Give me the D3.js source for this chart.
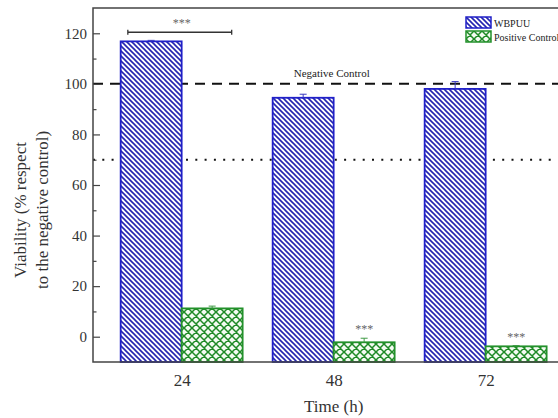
<!DOCTYPE html>
<html>
<head>
<meta charset="utf-8">
<script src="https://cdn.jsdelivr.net/npm/d3@7"></script>
<style>
  body { margin: 0; padding: 0; background: #fff; }
  svg { display: block; }
  svg text { font-family: "Liberation Serif", "DejaVu Serif", serif; }
</style>
</head>
<body>
<div id="main"></div>
<script>
const times = [24, 48, 72];
const wbpuu = [116.8, 94.5, 98.0];
const wbpuuErr = [0.4, 1.4, 2.9];
const positive = [11.2, -2.2, -3.8];
const positiveErr = [0.9, 1.6, 0.3];
const yTicks = [0, 20, 40, 60, 80, 100, 120];
const yMinor = [10, 30, 50, 70, 90, 110];
const seriesNames = ['WBPUU', 'Positive Control'];
const negativeLevel = 100;
const thresholdLevel = 70;
const starsOnPositive = [false, true, true];
const bracket = {from: 15.5, to: 31.9, level: 120.4, at: 24};

const WIDTH = 558, HEIGHT = 418;
const LEFT = 93, TOP = 8, BOTTOM = 362;
const BARW = 9.63;
const SERIF = '"Liberation Serif", "DejaVu Serif", serif';

const svg = d3.select('#main').append('svg').attr('width', WIDTH).attr('height', HEIGHT)
    .attr('font-family', SERIF);

const x = d3.scaleLinear().domain([10, 86]).range([LEFT, 574.3]);
const y = d3.scaleLinear().domain([-10, 130]).range([BOTTOM, TOP]);

// patterns
const defs = svg.append('defs');
const blueP = defs.append('pattern').attr('id', 'blueHatch').attr('patternUnits', 'userSpaceOnUse')
    .attr('width', 5).attr('height', 5);
blueP.append('rect').attr('width', 5).attr('height', 5).attr('fill', '#fff');
blueP.append('path').attr('d', 'M0,0 L5,5 M-1,4 L1,6 M4,-1 L6,1')
    .attr('stroke', '#2424b0').attr('stroke-width', 1.6);
const greenP = defs.append('pattern').attr('id', 'greenHatch').attr('patternUnits', 'userSpaceOnUse')
    .attr('width', 8).attr('height', 8);
greenP.append('rect').attr('width', 8).attr('height', 8).attr('fill', '#f4fbf2');
greenP.append('path').attr('d', 'M0,0 L8,8 M8,0 L0,8 M-1,1 L1,-1 M7,9 L9,7 M-1,7 L1,9 M7,-1 L9,1')
    .attr('stroke', '#1f8a26').attr('stroke-width', 1.5);

// reference lines
svg.append('line').attr('x1', LEFT).attr('x2', WIDTH).attr('y1', y(negativeLevel)).attr('y2', y(negativeLevel))
    .attr('stroke', '#111').attr('stroke-width', 2).attr('stroke-dasharray', '10,7');
svg.append('line').attr('x1', LEFT).attr('x2', WIDTH).attr('y1', y(thresholdLevel)).attr('y2', y(thresholdLevel))
    .attr('stroke', '#111').attr('stroke-width', 2).attr('stroke-dasharray', '2,7.3');

// bars
const groups = times.map((t, i) => ({t, w: wbpuu[i], we: wbpuuErr[i], p: positive[i], pe: positiveErr[i], star: starsOnPositive[i]}));
svg.selectAll('rect.wb').data(groups).enter().append('rect').attr('class', 'wb')
    .attr('x', (d) => x(d.t - BARW)).attr('width', (d) => x(d.t) - x(d.t - BARW))
    .attr('y', (d) => y(d.w)).attr('height', (d) => y(-10) - y(d.w))
    .attr('fill', 'url(#blueHatch)').attr('stroke', '#2020c8').attr('stroke-width', 1.8);
svg.selectAll('rect.pc').data(groups).enter().append('rect').attr('class', 'pc')
    .attr('x', (d) => x(d.t)).attr('width', (d) => x(d.t + BARW) - x(d.t))
    .attr('y', (d) => y(d.p)).attr('height', (d) => y(-10) - y(d.p))
    .attr('fill', 'url(#greenHatch)').attr('stroke', '#23912b').attr('stroke-width', 1.8);

// error bars (upper)
const errs = [];
groups.forEach((d) => {
    errs.push({cx: d.t - BARW / 2, v: d.w, e: d.we, c: '#3a3ac0'});
    errs.push({cx: d.t + BARW / 2, v: d.p, e: d.pe, c: '#3f9a45'});
});
const eg = svg.selectAll('g.err').data(errs).enter().append('g').attr('class', 'err');
eg.append('line').attr('x1', (d) => x(d.cx)).attr('x2', (d) => x(d.cx))
    .attr('y1', (d) => y(d.v)).attr('y2', (d) => y(d.v + d.e)).attr('stroke', (d) => d.c).attr('stroke-width', 1);
eg.append('line').attr('x1', (d) => x(d.cx) - 3.5).attr('x2', (d) => x(d.cx) + 3.5)
    .attr('y1', (d) => y(d.v + d.e)).attr('y2', (d) => y(d.v + d.e)).attr('stroke', (d) => d.c).attr('stroke-width', 1);

// significance stars
svg.selectAll('text.star').data(groups.filter((d) => d.star)).enter().append('text').attr('class', 'star')
    .attr('x', (d) => x(d.t + BARW / 2)).attr('y', (d) => y(d.p + d.pe) - 5)
    .attr('text-anchor', 'middle').attr('font-size', 12).attr('fill', '#666').text('***');
svg.append('path')
    .attr('d', `M${x(bracket.from)},${y(bracket.level) - 2.5}V${y(bracket.level) + 2.5}M${x(bracket.from)},${y(bracket.level)}H${x(bracket.to)}M${x(bracket.to)},${y(bracket.level) - 2.5}V${y(bracket.level) + 2.5}`)
    .attr('stroke', '#333').attr('stroke-width', 1.3).attr('fill', 'none');
svg.append('text').attr('x', x(bracket.at)).attr('y', y(bracket.level) - 5)
    .attr('text-anchor', 'middle').attr('font-size', 12).attr('fill', '#666').text('***');

svg.append('text').attr('x', x(47.7)).attr('y', y(negativeLevel) - 7)
    .attr('text-anchor', 'middle').attr('font-size', 11).attr('fill', '#222').text('Negative Control');

// axes
const axisY = d3.axisLeft(y).tickValues(yTicks).tickSize(-7).tickPadding(6).tickFormat(d3.format('d'));
const gy = svg.append('g').attr('transform', `translate(${LEFT},0)`).call(axisY).attr('font-family', SERIF);
gy.selectAll('text').attr('font-size', 15).attr('fill', '#333');
gy.selectAll('line').attr('stroke', '#444').attr('stroke-width', 1.2);
gy.select('.domain').remove();
const gym = svg.append('g').attr('transform', `translate(${LEFT},0)`)
    .call(d3.axisLeft(y).tickValues(yMinor).tickSize(-3.5).tickFormat(''));
gym.selectAll('line').attr('stroke', '#444').attr('stroke-width', 1.2);
gym.select('.domain').remove();

const axisX = d3.axisBottom(x).tickValues(times).tickSize(0).tickPadding(12);
const gx = svg.append('g').attr('transform', `translate(0,${BOTTOM})`).call(axisX).attr('font-family', SERIF);
gx.select('.domain').remove();
gx.selectAll('text').attr('font-size', 17).attr('fill', '#333');

// frame
svg.append('path').attr('d', `M${WIDTH},${TOP}H${LEFT}V${BOTTOM}H${WIDTH}`)
    .attr('fill', 'none').attr('stroke', '#444').attr('stroke-width', 1.5);

// axis titles
svg.append('text').attr('x', x(48)).attr('y', 412).attr('text-anchor', 'middle')
    .attr('font-size', 17).attr('fill', '#333').text('Time (h)');
const yl = svg.append('text').attr('transform', 'translate(20,210) rotate(-90)')
    .attr('text-anchor', 'middle').attr('font-size', 17).attr('fill', '#333');
yl.append('tspan').attr('x', 0).attr('dy', '0.35em').text('Viability (% respect');
yl.append('tspan').attr('x', 0).attr('dy', '1.3em').text('to the negative control)');

// legend
const legend = svg.append('g').attr('transform', 'translate(466,17)');
const lg = legend.selectAll('g').data(seriesNames).enter().append('g')
    .attr('transform', (d, i) => `translate(0,${i * 14})`);
lg.append('rect').attr('width', 25).attr('height', 11)
    .attr('fill', (d, i) => i ? 'url(#greenHatch)' : 'url(#blueHatch)')
    .attr('stroke', (d, i) => i ? '#23912b' : '#2020c8').attr('stroke-width', 1.5);
lg.append('text').attr('x', 28).attr('y', 10).attr('font-size', 10).attr('fill', '#222').text((d) => d);
</script>
</body>
</html>
